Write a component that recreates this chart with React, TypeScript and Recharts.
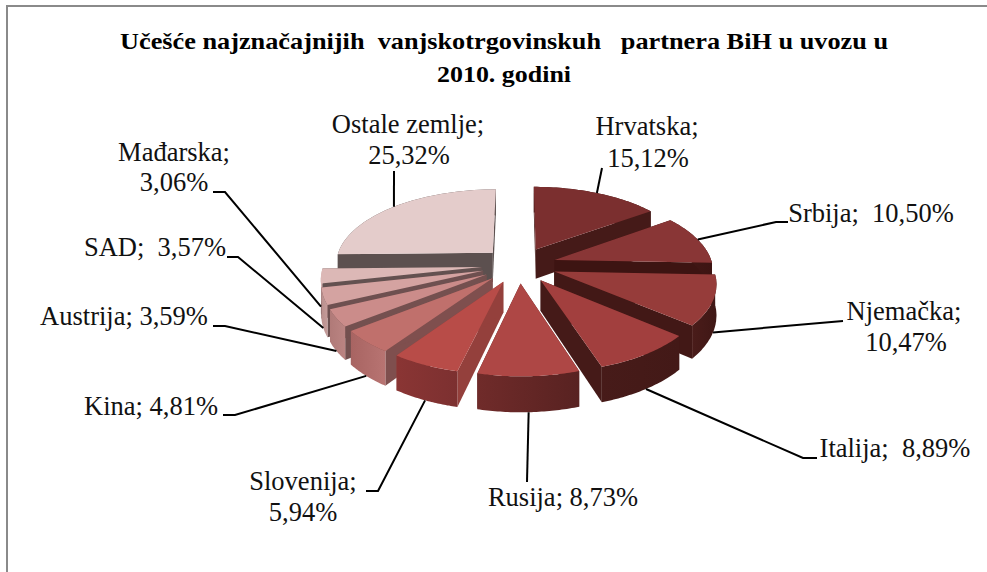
import React from 'react';
import { PieChart, Pie } from 'recharts';

const names = ['Hrvatska', 'Srbija', 'Njemačka', 'Italija', 'Rusija', 'Slovenija', 'Kina', 'Austrija', 'SAD', 'Mađarska', 'Ostale zemlje'];
const shares = [15.12, 10.5, 10.47, 8.89, 8.73, 5.94, 4.81, 3.59, 3.57, 3.06, 25.32];
const titleLines = ['Učešće najznačajnijih  vanjskotrgovinskuh   partnera BiH u uvozu u', '2010. godini'];

const chartData = names.map((name, i) => ({ name, value: shares[i] }));

// back to front, the slices overlap so data order can't be used
const paintOrder = ['Ostale zemlje', 'Hrvatska', 'Mađarska', 'SAD', 'Austrija', 'Srbija', 'Njemačka', 'Kina', 'Italija', 'Slovenija', 'Rusija'];

const topColors: Record<string, string> = {
  Hrvatska: '#7b2f2f',
  Srbija: '#893636',
  'Njemačka': '#963c3a',
  Italija: '#a23f3e',
  Rusija: '#ae4745',
  Slovenija: '#b84c48',
  Kina: '#c0706c',
  Austrija: '#cb8c8a',
  SAD: '#d4a3a1',
  'Mađarska': '#dcb8b6',
  'Ostale zemlje': '#e4cccb',
};
// side wall, outer wall left, outer wall right
const wallColors: Record<string, string[]> = {
  Hrvatska: ['#451a18', '#451a18', '#451a18'],
  Srbija: ['#3d1412', '#451a18', '#3d1412'],
  'Njemačka': ['#421816', '#4a1c1a', '#3f1715'],
  Italija: ['#451a18', '#471b19', '#431917'],
  Rusija: ['#5a2322', '#702b2a', '#582221'],
  Slovenija: ['#94403c', '#8a3534', '#7c3030'],
  Kina: ['#7f4f4e', '#a86462', '#b87472'],
  Austrija: ['#74504f', '#b07a78', '#bb8482'],
  SAD: ['#6e5050', '#b98f8d', '#c59c9a'],
  'Mađarska': ['#635150', '#cdaeac', '#d3b4b2'],
  'Ostale zemlje': ['#5c504f', '#5c504f', '#5c504f'],
};

type LabelSpot = { lines: string[]; x: number[]; ys: number[]; path: number[][] };
const labelSpots: Record<string, LabelSpot> = {
  Hrvatska: { lines: ['Hrvatska;', '15,12%'], x: [647, 648], ys: [135, 167], path: [[602, 168]] },
  Srbija: { lines: ['Srbija;  10,50%'], x: [871], ys: [222], path: [[776, 222], [788, 222]] },
  'Njemačka': { lines: ['Njemačka;', '10,47%'], x: [904, 906], ys: [320, 351], path: [[843, 321]] },
  Italija: { lines: ['Italija;  8,89%'], x: [895], ys: [457], path: [[803, 458], [817, 458]] },
  Rusija: { lines: ['Rusija; 8,73%'], x: [563], ys: [506], path: [[527, 482]] },
  Slovenija: { lines: ['Slovenija;', '5,94%'], x: [303, 303], ys: [490, 521], path: [[378, 491], [366, 491]] },
  Kina: { lines: ['Kina; 4,81%'], x: [151], ys: [415], path: [[235, 415], [223, 415]] },
  Austrija: { lines: ['Austrija; 3,59%'], x: [124], ys: [325], path: [[225, 326], [213, 326]] },
  SAD: { lines: ['SAD;  3,57%'], x: [155], ys: [256], path: [[238, 257], [227, 257]] },
  'Mađarska': { lines: ['Mađarska;', '3,06%'], x: [174, 174], ys: [161, 191], path: [[225, 192], [213, 192]] },
  'Ostale zemlje': { lines: ['Ostale zemlje;', '25,32%'], x: [408, 409], ys: [133, 164], path: [[394, 171]] },
};

const FONT = '"Liberation Serif", "Times New Roman", serif';
const CX = 519;
const CY = 265;
const RADIUS = 158;
const EXPLODE = 37.5;
const SQUASH = 0.475;
const PERSPECTIVE = 0.00085;
const DEPTH = 30;

const rad = (deg: number) => (deg * Math.PI) / 180;

// u right, v towards the viewer, on the plane of the pie
const project = (cx: number, cy: number, u: number, v: number, drop = 0) => {
  const w = 1 / (1 - v * PERSPECTIVE);
  return { x: cx + u * w, y: cy + v * SQUASH * w + drop * w };
};

const toPath = (pts: { x: number; y: number }[]) =>
  pts.map((p, i) => `${i ? 'L' : 'M'}${p.x.toFixed(1)} ${p.y.toFixed(1)}`).join(' ') + ' Z';

const Slice = ({ cx, cy, startAngle, endAngle, name }: any) => {
  // recharts angles are counter clockwise from 3 o'clock
  const from = 90 - startAngle;
  const to = 90 - endAngle;
  const mid = (from + to) / 2;
  const ou = Math.sin(rad(mid)) * EXPLODE;
  const ov = -Math.cos(rad(mid)) * EXPLODE;
  const steps = 40;
  const top: { x: number; y: number }[] = [];
  const low: { x: number; y: number }[] = [];
  for (let i = 0; i <= steps; i++) {
    const a = rad(from + ((to - from) * i) / steps);
    const u = ou + Math.sin(a) * RADIUS;
    const v = ov - Math.cos(a) * RADIUS;
    top.push(project(cx, cy, u, v));
    low.push(project(cx, cy, u, v, DEPTH));
  }
  const apex = project(cx, cy, ou, ov);
  const apexLow = project(cx, cy, ou, ov, DEPTH);
  const [side, wallA, wallB] = wallColors[name];
  const gradId = `wall-${names.indexOf(name)}`;
  return (
    <g>
      <defs>
        <linearGradient id={gradId} gradientUnits="userSpaceOnUse" x1={Math.min(...top.map((p) => p.x))} x2={Math.max(...top.map((p) => p.x))} y1={0} y2={0}>
          <stop offset="0" stopColor={wallA} />
          <stop offset="1" stopColor={wallB} />
        </linearGradient>
      </defs>
      <path d={toPath([apex, top[0], low[0], apexLow])} fill={side} />
      <path d={toPath([apex, top[steps], low[steps], apexLow])} fill={side} />
      <path d={toPath([...top, ...low.slice().reverse()])} fill={`url(#${gradId})`} />
      <path d={toPath([apex, ...top])} fill={topColors[name]} />
    </g>
  );
};

const SliceLabel = ({ cx, cy, midAngle, name }: any) => {
  const spot = labelSpots[name];
  const a = rad(90 - midAngle);
  const r = RADIUS + EXPLODE;
  const v = -Math.cos(a) * r;
  const start = project(cx, cy, Math.sin(a) * r, v, v > 0 ? DEPTH : 0);
  const d = [[start.x, start.y], ...spot.path].map((p, i) => `${i ? 'L' : 'M'}${p[0]} ${p[1]}`).join(' ');
  return (
    <g>
      <path d={d} fill="none" stroke="#000" strokeWidth={2} />
      {spot.lines.map((line, i) => (
        <text
          key={line}
          x={spot.x[i]}
          y={spot.ys[i]}
          textAnchor="middle"
          fontFamily={FONT}
          fontSize={26.5}
          fill="#111"
          style={{ whiteSpace: 'pre' }}
        >
          {line}
        </text>
      ))}
    </g>
  );
};

export default function App() {
  return (
    <div style={{ position: 'absolute', left: 0, top: 0, width: 987, height: 572, background: '#fff', overflow: 'hidden' }}>
      <div style={{ position: 'absolute', left: 6, top: 5, right: 0, bottom: 0, borderLeft: '2px solid #8a8a8a', borderTop: '2px solid #8a8a8a' }} />
      <PieChart width={987} height={572} margin={{ top: 0, right: 0, bottom: 0, left: 0 }} style={{ position: 'absolute', left: 0, top: 0 }}>
        <text x={504} y={49} textAnchor="middle" textLength={768} lengthAdjust="spacingAndGlyphs" fontFamily={FONT} fontSize={24} fontWeight="bold" fill="#000" style={{ whiteSpace: 'pre' }}>
          {titleLines[0]}
        </text>
        <text x={504} y={82} textAnchor="middle" textLength={134} lengthAdjust="spacingAndGlyphs" fontFamily={FONT} fontSize={24} fontWeight="bold" fill="#000">
          {titleLines[1]}
        </text>
        <Pie
          data={chartData}
          dataKey="value"
          nameKey="name"
          cx={CX}
          cy={CY}
          outerRadius={RADIUS}
          startAngle={90}
          endAngle={-270}
          isAnimationActive={false}
          shape={() => <g />}
          labelLine={false}
          label={SliceLabel}
        />
        {paintOrder.map((layer) => (
          <Pie
            key={layer}
            data={chartData}
            dataKey="value"
            nameKey="name"
            cx={CX}
            cy={CY}
            outerRadius={RADIUS}
            startAngle={90}
            endAngle={-270}
            isAnimationActive={false}
            shape={(props: any) => (props.name === layer ? <Slice {...props} /> : <g />)}
          />
        ))}
      </PieChart>
    </div>
  );
}
